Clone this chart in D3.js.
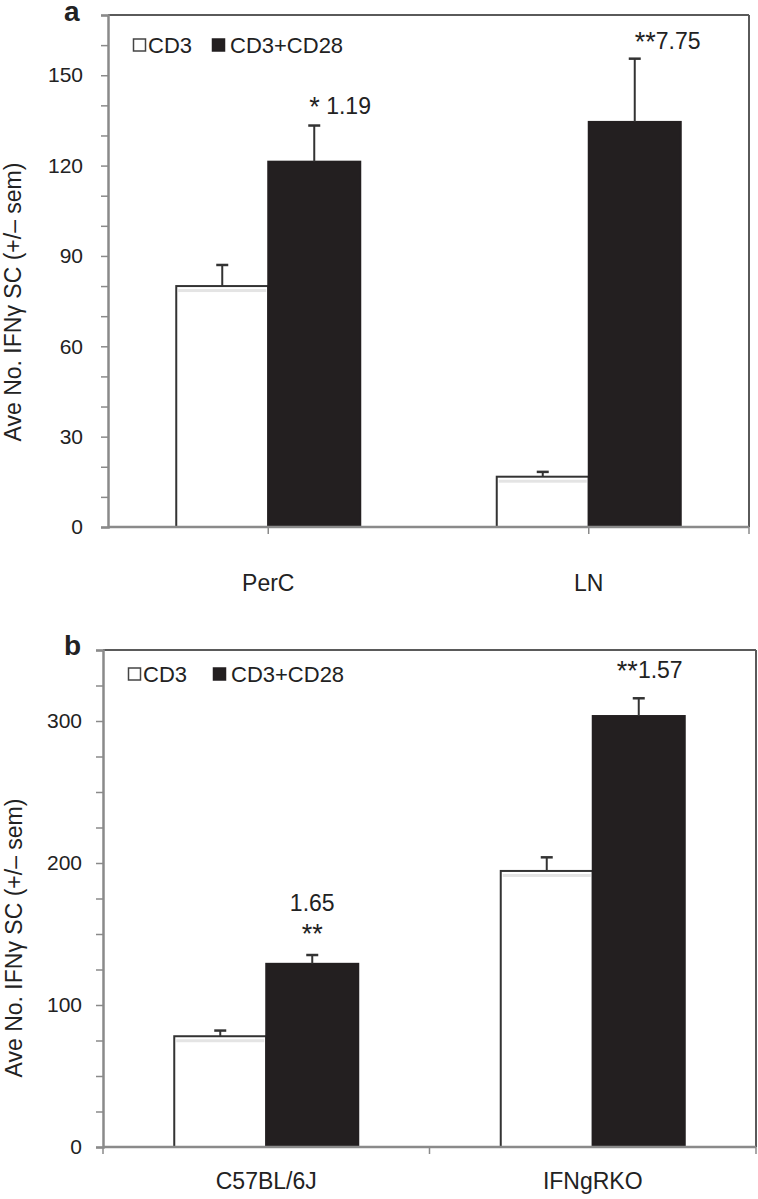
<!DOCTYPE html>
<html><head><meta charset="utf-8">
<script src="https://cdn.jsdelivr.net/npm/d3@7"></script>
<style>
body{margin:0;background:#fff}
svg{display:block}
text{font-family:"Liberation Sans",Arial,sans-serif;fill:#222}
</style>
</head><body><svg id="c" width="758" height="1199"></svg>
<script>
// ---------- data ----------
const seriesNames = ["CD3", "CD3+CD28"];

const categoriesA = ["PerC", "LN"];
const cd3A = [80, 16.7];
const cd3SemA = [7, 1.6];
const cd3cd28A = [121.3, 134.5];
const cd3cd28SemA = [12, 21];
const labelsA = [["* 1.19"], ["**7.75"]];
const yTicksA = [0, 30, 60, 90, 120, 150];
const yMaxA = 170;
const yMinorStepA = 10;

const categoriesB = ["C57BL/6J", "IFNgRKO"];
const cd3B = [78, 194.4];
const cd3SemB = [4, 9.6];
const cd3cd28B = [129, 303.5];
const cd3cd28SemB = [6.2, 12.5];
const labelsB = [["1.65", "**"], ["**1.57"]];
const yTicksB = [0, 100, 200, 300];
const yMaxB = 350;
const yMinorStepB = 25;

// ---------- layout ----------
const layoutA = {
  letter: "a", letterX: 64, letterY: 21,
  left: 108, right: 749, top: 15, bottom: 527, tickPad: 18,
  xTickMode: "center", legendY: 45, legendX: [133, 212],
  yLabelX: 21, yLabelY: 302, catY: 591,
  annot: [{anchor: "start", dx: -5, dys: [-12]}, {anchor: "start", dx: 0, dys: [-10]}]
};
const layoutB = {
  letter: "b", letterX: 64, letterY: 655,
  left: 103, right: 756, top: 650, bottom: 1147, tickPad: 14,
  xTickMode: "boundary", legendY: 674, legendX: [128, 213],
  yLabelX: 22, yLabelY: 938, catY: 1189,
  annot: [{anchor: "middle", dx: 0, dys: [-44, -14]}, {anchor: "middle", dx: 11, dys: [-20]}]
};

const svg = d3.select("#c");
const FONT = 22;
const BAR_W = 92;
const DARK = "#231f20";
const AXIS = "#8a8a8a";

function drawPanel(L, cats, v1, e1, v2, e2, labels, ticks, ymax, minorStep) {
  const g = svg.append("g");
  const y = d3.scaleLinear().domain([0, ymax]).range([L.bottom, L.top]);
  const x0 = d3.scaleBand().domain(cats).range([L.left, L.right]).padding(0);
  const bw = x0.bandwidth();
  const x1 = d3.scaleBand().domain(seriesNames)
    .range([bw / 2 - BAR_W, bw / 2 + BAR_W]).padding(0);

  const rows = cats.map((c, i) => ({
    cat: c,
    vals: [
      {s: seriesNames[0], v: v1[i], e: e1[i]},
      {s: seriesNames[1], v: v2[i], e: e2[i]}
    ],
    label: labels[i],
    ann: L.annot[i]
  }));

  // frame top & right
  g.append("line").attr("x1", L.left).attr("x2", L.right).attr("y1", L.top).attr("y2", L.top)
    .attr("stroke", "#5a5a5a").attr("stroke-width", 2);
  g.append("line").attr("x1", L.right).attr("x2", L.right).attr("y1", L.top).attr("y2", L.bottom)
    .attr("stroke", "#5a5a5a").attr("stroke-width", 2);

  // bars
  const grp = g.selectAll(".grp").data(rows).join("g")
    .attr("transform", d => `translate(${x0(d.cat)},0)`);
  grp.selectAll("rect.bar").data(d => d.vals).join("rect")
    .attr("class", "bar")
    .attr("x", d => x1(d.s))
    .attr("width", x1.bandwidth())
    .attr("y", d => y(d.v))
    .attr("height", d => y(0) - y(d.v))
    .attr("fill", (d, i) => i === 0 ? "#fff" : DARK)
    .attr("stroke", (d, i) => i === 0 ? "#333" : DARK)
    .attr("stroke-width", 2);
  // faint shade under top edge of white bars
  grp.selectAll("rect.shade").data(d => [d.vals[0]]).join("rect")
    .attr("class", "shade")
    .attr("x", d => x1(d.s) + 2)
    .attr("width", x1.bandwidth() - 4)
    .attr("y", d => y(d.v) + 3)
    .attr("height", 3)
    .attr("fill", "#e4e4e4");
  // error bars
  const eb = grp.selectAll("g.err").data(d => d.vals).join("g").attr("class", "err")
    .attr("transform", d => `translate(${x1(d.s) + x1.bandwidth() / 2},0)`);
  eb.append("line").attr("x1", 0).attr("x2", 0)
    .attr("y1", d => y(d.v)).attr("y2", d => y(d.v + d.e))
    .attr("stroke", "#333").attr("stroke-width", 2);
  eb.append("line").attr("x1", -6).attr("x2", 6)
    .attr("y1", d => y(d.v + d.e)).attr("y2", d => y(d.v + d.e))
    .attr("stroke", "#333").attr("stroke-width", 2.5);

  // annotations above CD3+CD28 bars
  grp.each(function (d) {
    const b = d.vals[1];
    const cx = x1(b.s) + x1.bandwidth() / 2 + d.ann.dx;
    const top = y(b.v + b.e);
    d.label.forEach((t, k) => {
      const m = t.match(/^(\**)(.*)$/);
      const tx = d3.select(this).append("text")
        .attr("x", cx).attr("y", top + d.ann.dys[k])
        .attr("text-anchor", d.ann.anchor)
        .attr("font-size", 23);
      if (m[1]) tx.append("tspan").attr("font-size", 27).attr("dy", 2).text(m[1]);
      if (m[2]) tx.append("tspan").attr("dy", m[1] ? -2 : 0).text(m[2]);
    });
  });

  // y axis
  const minor = d3.range(0, ymax + 1e-6, minorStep);
  const yAxis = d3.axisLeft(y).tickValues(minor).tickSize(7).tickPadding(L.tickPad)
    .tickFormat(v => ticks.includes(v) ? d3.format("d")(v) : "");
  const ya = g.append("g").attr("transform", `translate(${L.left},0)`).call(yAxis);
  ya.select(".domain").attr("stroke", AXIS).attr("stroke-width", 2.5);
  ya.selectAll(".tick line").attr("stroke", AXIS).attr("stroke-width", 1.5);
  ya.selectAll(".tick text").attr("font-size", 21)
    .attr("font-family", '"Liberation Sans",Arial,sans-serif').attr("fill", "#222");

  // x axis line + ticks
  g.append("line").attr("x1", L.left).attr("x2", L.right).attr("y1", L.bottom).attr("y2", L.bottom)
    .attr("stroke", AXIS).attr("stroke-width", 2.5);
  let xt;
  if (L.xTickMode === "center") {
    xt = cats.map(c => x0(c) + bw / 2).concat([L.right]);
  } else {
    xt = cats.map(c => x0(c)).concat([L.right]);
  }
  g.selectAll(".xt").data(xt).join("line")
    .attr("x1", d => d).attr("x2", d => d)
    .attr("y1", L.bottom).attr("y2", L.bottom + 7)
    .attr("stroke", AXIS).attr("stroke-width", 1.5);

  // category labels
  g.selectAll(".cat").data(cats).join("text")
    .attr("x", c => x0(c) + bw / 2).attr("y", L.catY)
    .attr("text-anchor", "middle").attr("font-size", 23)
    .text(c => c);

  // y label
  g.append("text")
    .attr("transform", `translate(${L.yLabelX},${L.yLabelY}) rotate(-90)`)
    .attr("text-anchor", "middle").attr("font-size", 23)
    .text("Ave No. IFN\u03b3 SC (+/\u2013 sem)");

  // panel letter
  g.append("text").attr("x", L.letterX).attr("y", L.letterY)
    .attr("font-size", 28).attr("font-weight", "bold").text(L.letter);

  // legend
  const lg = g.selectAll(".lg").data(seriesNames).join("g")
    .attr("transform", (d, i) => `translate(${L.legendX[i]},${L.legendY})`);
  lg.append("rect").attr("x", 0.5).attr("y", -6).attr("width", 12).attr("height", 12)
    .attr("fill", (d, i) => i === 0 ? "#fff" : DARK)
    .attr("stroke", (d, i) => i === 0 ? "#444" : DARK).attr("stroke-width", 1.5);
  lg.append("text").attr("x", (d, i) => i === 0 ? 15 : 18).attr("y", 8)
    .attr("font-size", FONT).text(d => d);
}

drawPanel(layoutA, categoriesA, cd3A, cd3SemA, cd3cd28A, cd3cd28SemA, labelsA, yTicksA, yMaxA, yMinorStepA);
drawPanel(layoutB, categoriesB, cd3B, cd3SemB, cd3cd28B, cd3cd28SemB, labelsB, yTicksB, yMaxB, yMinorStepB);
</script>
</body></html>
